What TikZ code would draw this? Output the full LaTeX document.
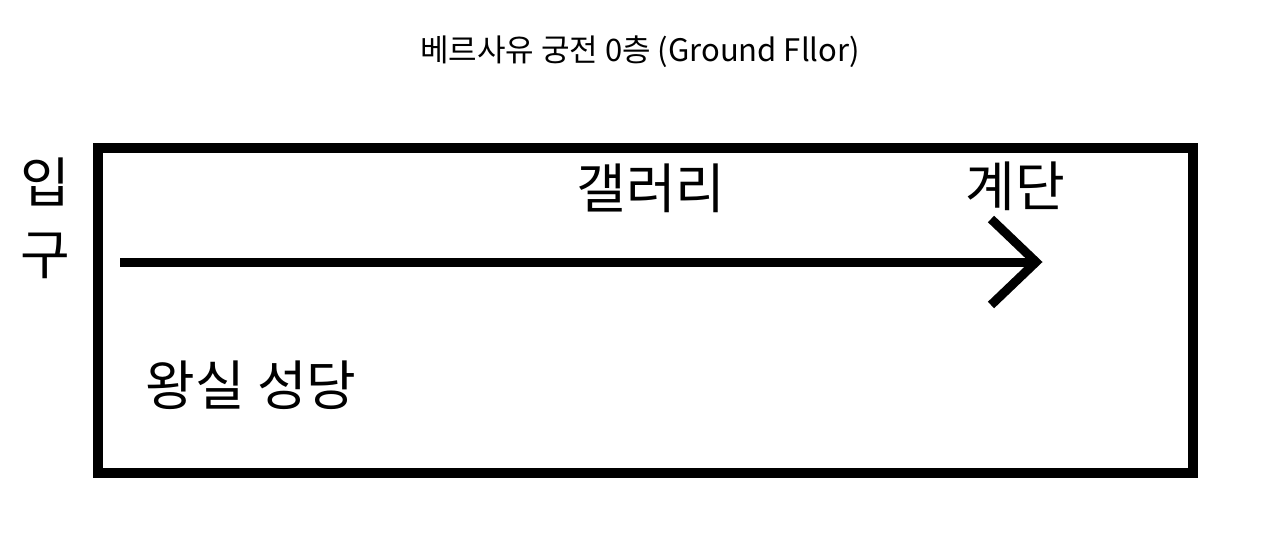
\documentclass[tikz,border=0pt]{standalone}
\usepackage{fontspec}
\setmainfont{Noto Sans CJK KR}
\tikzset{
  lbl/.style={inner sep=0pt, font=\fontsize{54}{72}\selectfont},
  ttl/.style={inner sep=0pt, font=\fontsize{31}{36}\selectfont},
  frame/.style={draw, line width=10pt, line join=miter, inner sep=0pt},
  flow/.style={line width=9pt, line join=miter}
}
\begin{document}
\begin{tikzpicture}[x=1pt,y=-1pt]
\useasboundingbox (0,0) rectangle (1280,547);
\fill[white] (0,0) rectangle (1280,547);
\node[ttl] (title) at (640,52) {베르사유 궁전 0층 (Ground Fllor)};
\node[frame, minimum width=1095pt, minimum height=325pt] (hall) at (645.5,310.5) {};
\node[lbl, align=center] (entry) at (45,218) {입\\구};
\node[lbl] (gallery) at (651,188) {갤러리};
\node[lbl] (stairs) at (1015,186) {계단};
\node[lbl] (chapel) at (251,385) {왕실 성당};
\coordinate (start) at (120,262);
\coordinate (tip) at (1036,262);
\coordinate (barbA) at (991,219);
\coordinate (barbB) at (991,305);
\draw[flow] (start) -- (tip);
\draw[flow] (barbA) -- (tip) -- (barbB);
\end{tikzpicture}
\end{document}
